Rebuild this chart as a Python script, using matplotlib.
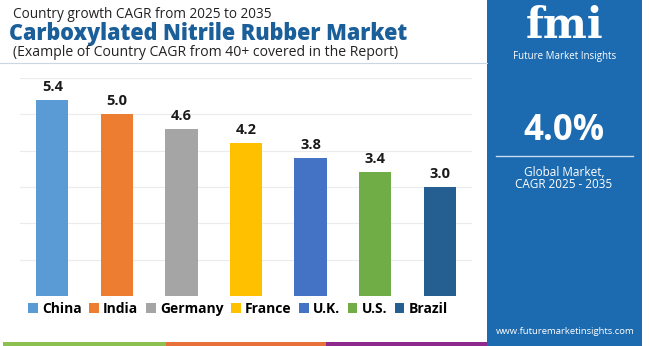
import matplotlib.pyplot as plt
from matplotlib.patches import Rectangle, Patch

countries = ["China", "India", "Germany", "France", "U.K.", "U.S.", "Brazil"]
cagr = [5.4, 5.0, 4.6, 4.2, 3.8, 3.4, 3.0]
colors = ["#5b9bd5", "#ed7d31", "#a5a5a5", "#ffc000", "#4472c4", "#70ad47", "#255e91"]

W, H = 650, 346
fig = plt.figure(figsize=(6.5, 3.46), dpi=100)
font = "Open Sans"

def fx(px):
    return px / W

def fy(py):
    return 1 - py / H

# chart area
ax = fig.add_axes([fx(20), fy(296), fx(452), (296 - 78) / H])
x = list(range(len(countries)))
ax.bar(x, cagr, width=0.5, color=colors, zorder=3)
for xi, v in zip(x, cagr):
    ax.text(xi, v + 0.17, f"{v:.1f}", ha="center", va="bottom", fontsize=10.5,
            fontweight="bold", color="#1a1a1a", family=font)
ax.set_xlim(-0.5, 6.5)
ax.set_ylim(0, 6)
ax.set_yticks([1, 2, 3, 4, 5, 6])
ax.grid(axis="y", color="#ebebeb", linewidth=0.8, zorder=0)
ax.tick_params(left=False, bottom=False, labelleft=False, labelbottom=False)
for s in ax.spines.values():
    s.set_visible(False)

# legend
handles = [Patch(facecolor=c, edgecolor="none") for c in colors]
leg = fig.legend(handles, countries, loc="center", bbox_to_anchor=(fx(238), fy(309)),
                 ncol=7, frameon=False, handlelength=0.7, handleheight=0.7,
                 handletextpad=0.3, columnspacing=0.55,
                 prop={"family": font, "weight": "bold", "size": 10})

# titles
fig.text(fx(13), fy(15), "Country growth CAGR from 2025 to 2035", fontsize=9.8,
         family=font, color="#222222", va="center")
fig.text(fx(9), fy(34), "Carboxylated Nitrile Rubber Market", fontsize=15.5,
         family=font, fontweight="heavy", color="#1a5e9a", va="center")
fig.text(fx(13), fy(53), "(Example of Country CAGR from 40+ covered in the Report)",
         fontsize=10.1, family=font, color="#222222", va="center")
fig.add_artist(plt.Line2D([0, fx(487)], [fy(63), fy(63)], color="#c9d6e3", lw=0.8))

# bottom stripes
stripes = [(3, 166, "#8cc152"), (166, 326, "#e8703a"), (326, 490, "#8e2a8e")]
for x0, x1, c in stripes:
    fig.add_artist(Rectangle((fx(x0), 0), fx(x1 - x0), 4 / H, color=c, lw=0))

# right panel
fig.add_artist(Rectangle((fx(487), 0), fx(155), 1, color="#1c6aaf", lw=0))
fig.text(fx(565), fy(26), "fmi", fontsize=30, family="DejaVu Serif", fontweight="bold",
         color="white", ha="center", va="center")
fig.text(fx(565), fy(57), "Future Market Insights", fontsize=7, family=font,
         color="white", ha="center", va="center")
fig.text(fx(564), fy(131), "4.0%", fontsize=25, family=font, fontweight="bold",
         color="white", ha="center", va="center")
fig.add_artist(plt.Line2D([fx(496), fx(633)], [fy(156), fy(156)], color="#c6dcf0", lw=1))
fig.text(fx(564), fy(172), "Global Market,", fontsize=8.5, family=font,
         color="white", ha="center", va="center")
fig.text(fx(564), fy(185), "CAGR 2025 - 2035", fontsize=8.5, family=font,
         color="white", ha="center", va="center")
fig.text(fx(565), fy(331), "www.futuremarketinsights.com", fontsize=6.8, family=font,
         color="white", ha="center", va="center")

fig.savefig("out.png", dpi=100)
